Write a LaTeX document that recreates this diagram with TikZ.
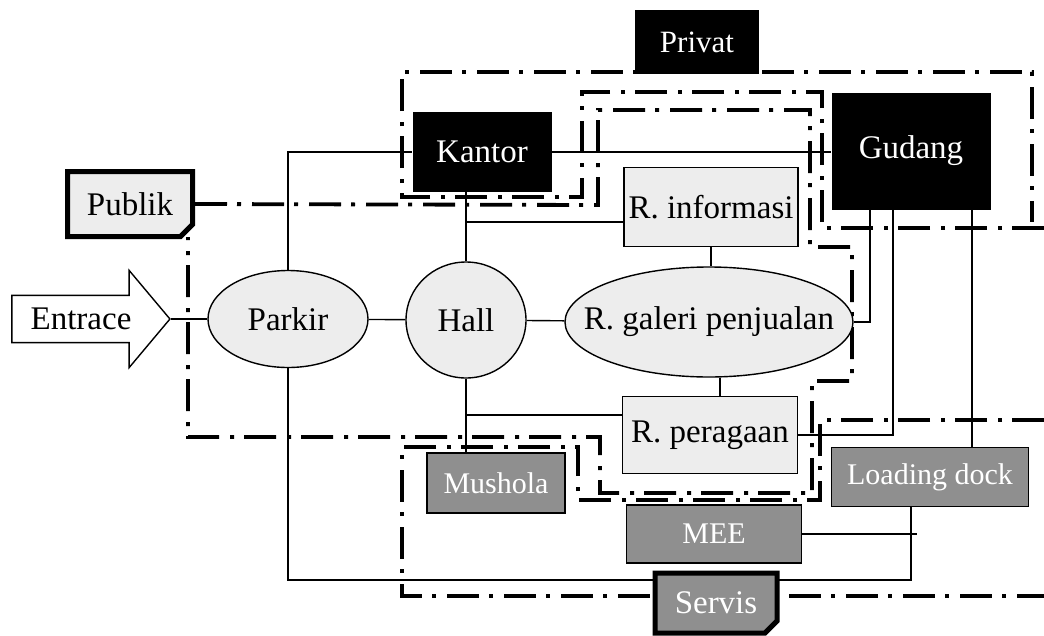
\documentclass[tikz,border=0pt]{standalone}
\usepackage{fontspec}
\setmainfont{Liberation Serif}
\usetikzlibrary{arrows.meta,positioning,shapes.geometric,shapes.arrows,shapes.misc,backgrounds,calc}
\definecolor{RoomFill}{HTML}{EDEDED}
\definecolor{ServFill}{HTML}{8F8F8F}
\tikzset{
  roomnode/.style={draw,line width=1.4pt,fill=RoomFill,inner sep=0pt,font=\fontsize{33}{36}\selectfont},
  ovalnode/.style={roomnode,ellipse},
  privnode/.style={fill=black,text=white,inner sep=0pt,font=\fontsize{33}{36}\selectfont},
  servnode/.style={draw,line width=1.4pt,fill=ServFill,text=white,inner sep=0pt,font=\fontsize{30}{34}\selectfont},
  zonelabel/.style={draw,line width=5pt,chamfered rectangle,chamfered rectangle corners=south east,chamfered rectangle xsep=6pt,chamfered rectangle ysep=6pt,inner sep=0pt,font=\fontsize{33}{36}\selectfont},
  entrynode/.style={draw,line width=1.4pt,fill=white,single arrow,single arrow head extend=25pt,single arrow tip angle=100,inner ysep=12pt,font=\fontsize{33}{36}\selectfont},
  link/.style={line width=1.4pt},
  zoneline/.style={line width=3.8pt,dash pattern=on 32pt off 10pt on 4pt off 11pt}
}
\begin{document}
\begin{tikzpicture}[x=1pt,y=-1pt]
\useasboundingbox (0,0) rectangle (1044,635);
% zone labels
\node[privnode,font=\fontsize{31}{36}\selectfont,minimum width=124pt,minimum height=64pt] (privat) at (697,42) {Privat};
\node[zonelabel,fill=RoomFill,minimum width=125pt,minimum height=65pt] (publik) at (130,204) {Publik};
\node[zonelabel,fill=ServFill,text=white,minimum width=122pt,minimum height=60pt] (servis) at (716,603) {Servis};
% rooms
\node[entrynode,minimum height=158pt] (entrace) at (81,319) {Entrace};
\node[privnode,minimum width=139pt,minimum height=80pt] (kantor) at (482,152) {Kantor};
\node[privnode,minimum width=159pt,minimum height=117pt] (gudang) at (911,151) {Gudang};
\node[ovalnode,minimum width=160pt,minimum height=97pt] (parkir) at (288,319) {Parkir};
\node[ovalnode,minimum width=120pt,minimum height=116pt] (hall) at (466,320) {Hall};
\node[ovalnode,minimum width=288pt,minimum height=110pt] (galeri) at (709,322) {\makebox[0pt]{R. galeri penjualan}};
\node[roomnode,minimum width=174pt,minimum height=79pt] (info) at (711,207) {R. informasi};
\node[roomnode,minimum width=175pt,minimum height=77pt] (peragaan) at (710,435) {R. peragaan};
\node[servnode,minimum width=138pt,minimum height=60pt] (mushola) at (496,483) {Mushola};
\node[servnode,minimum width=175pt,minimum height=58pt] (mee) at (714,534) {MEE};
\node[servnode,minimum width=197pt,minimum height=59pt] (loading) at (930,477) {Loading dock};
\coordinate (svc) at (911,580);

\begin{scope}[on background layer]
% zones
\draw[zoneline] (1044,228) -- (822,228) -- (822,92) -- (582,92) -- (582,197) -- (402,197) -- (402,72) -- (1032,72) -- (1032,222);
\draw[zoneline] (publik.east) -- (598,205) -- (598,110) -- (810,110) -- (810,247) -- (852,247) -- (852,381) -- (812,381) -- (812,493) -- (600,493) -- (600,437) -- (188,437) -- (188,237);
\draw[zoneline] (1044,420) -- (820,420) -- (820,500) -- (578,500) -- (578,447) -- (402,447) -- (402,596) -- (1044,596);
% links
\draw[link] (entrace.tip) -- (parkir);
\draw[link] (parkir) -- (hall);
\draw[link] (hall) -- (galeri);
\draw[link] (parkir.north) |- (kantor.west);
\draw[link] (kantor.east) -- (kantor.east -| gudang.west);
\draw[link] (hall.north) -- (hall.north |- kantor.south);
\draw[link] ([yshift=-15pt]info.west) -- ([yshift=-15pt]info.west -| hall.north);
\draw[link] (info.south) -- (info.south |- galeri.north);
\draw[link] ([xshift=10pt]peragaan.north) -- ([xshift=10pt]peragaan.north |- galeri.south);
\draw[link] (hall.south) -- (hall.south |- mushola.north);
\draw[link] ([yshift=20pt]peragaan.west) -- ([yshift=20pt]peragaan.west -| hall.south);
\draw[link] (parkir.south) |- (svc) -- (svc |- loading.south);
\draw[link] (mee.east) -- ([xshift=6pt]mee.east -| svc);
\draw[link] (galeri.east) -| ([xshift=-41pt]gudang.south);
\draw[link] (peragaan.east) -| ([xshift=-18pt]gudang.south);
\draw[link] ([xshift=61pt]gudang.south) -- ([xshift=61pt]gudang.south |- loading.north);
\end{scope}
\end{tikzpicture}
\end{document}
